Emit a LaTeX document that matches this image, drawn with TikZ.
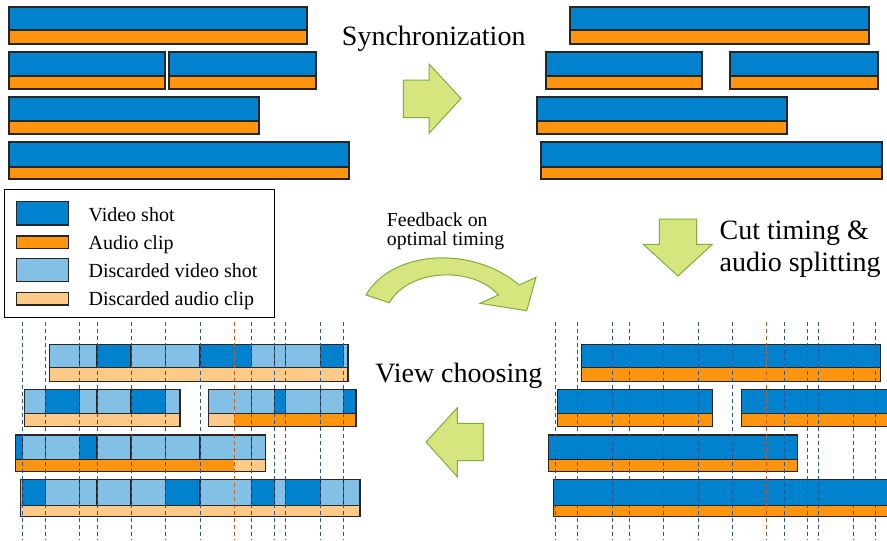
\documentclass[tikz,border=0pt]{standalone}
\usepackage{fontspec}
\setmainfont{Liberation Serif}
\definecolor{vidblue}{HTML}{0082CE}
\definecolor{audorange}{HTML}{FF950E}
\definecolor{disblue}{HTML}{82C0E6}
\definecolor{disorange}{HTML}{FFC987}
\definecolor{gridblue}{HTML}{2B5797}
\definecolor{cutred}{HTML}{D2581D}
\definecolor{arrowfill}{HTML}{D7E57F}
\definecolor{arrowline}{HTML}{79B13C}

% a shot over its audio clip, both kept
\newcommand\avclip[5]{%
  \fill[vidblue] (#1,#3) rectangle (#2,#4);
  \fill[audorange] (#1,#4) rectangle (#2,#5);
  \draw[barline] (#1,#3) rectangle (#2,#5) (#1,#4) -- (#2,#4);}

% a shot cut into pieces: #6 video pieces, #7 audio pieces (x1/x2/colour), #8 cut positions
\newcommand\cutclip[8]{%
  \foreach \a/\b/\c in {#6} {\fill[fill=\c] (\a,#3) rectangle (\b,#4);}
  \foreach \a/\b/\c in {#7} {\fill[fill=\c] (\a,#4) rectangle (\b,#5);}
  \foreach \d in {#8} {\draw[barline] (\d,#3) -- (\d,#4);}
  \draw[barline] (#1,#3) rectangle (#2,#5) (#1,#4) -- (#2,#4);}

\begin{document}
\begin{tikzpicture}[x=0.75pt,y=-0.75pt,
  barline/.style={draw=black!85,line width=0.8pt},
  gridline/.style={draw=gridblue,line width=0.7pt,dash pattern=on 3pt off 2.25pt},
  cutline/.style={draw=cutred,line width=0.7pt,dash pattern=on 3pt off 2.25pt},
  blockarrow/.style={fill=arrowfill,draw=arrowline,line width=0.75pt,line join=miter},
  steplabel/.style={inner sep=0pt,anchor=base west,font=\fontsize{21}{24}\selectfont},
  smalllabel/.style={inner sep=0pt,anchor=base west,font=\fontsize{14.85}{17}\selectfont},
  legendlabel/.style={inner sep=0pt,anchor=base west,font=\fontsize{15}{17}\selectfont}]
\useasboundingbox (0,0) rectangle (887,540);
\clip (0,0) rectangle (887,540);

% ---- unsynchronised recordings
\avclip{9}{307}{7}{30}{44}
\avclip{9}{165}{52}{76}{89}
\avclip{169}{316}{52}{76}{89}
\avclip{9}{259}{97}{121}{134}
\avclip{9}{349}{142}{167}{179}

% ---- synchronised recordings
\avclip{570}{869}{7}{30}{44}
\avclip{546}{702}{52}{76}{89}
\avclip{730}{878}{52}{76}{89}
\avclip{537}{787}{97}{121}{134}
\avclip{541}{882}{142}{167}{179}

% ---- synchronised recordings with cut timing
\avclip{581.9}{880.6}{344.3}{367.7}{381.7}
\avclip{557.3}{712.6}{389.7}{413.7}{426.7}
\avclip{741.3}{888.6}{389.7}{413.7}{426.7}
\avclip{548.3}{797.9}{435}{459.3}{471.7}
\avclip{553.3}{892.6}{479.7}{505.3}{516.7}

% ---- chosen views
\cutclip{49.3}{348}{344.3}{367.7}{381.7}
  {49.3/348/disblue,97/131/vidblue,200/251.7/vidblue,320.7/343.3/vidblue}
  {49.3/348/disorange}
  {79.7,97,131,165.7,200,251.7,274.7,285.7,320.7,343.3}
\cutclip{24.7}{180}{389.7}{413.7}{426.7}
  {24.7/180/disblue,45.3/79.7/vidblue,131/165.7/vidblue}
  {24.7/180/disorange}
  {45.3,79.7,97,131,165.7}
\cutclip{208.7}{356}{389.7}{413.7}{426.7}
  {208.7/356/disblue,274.7/285.7/vidblue,343.3/356/vidblue}
  {208.7/234.3/disorange,234.3/356/audorange}
  {251.7,274.7,285.7,320.7,343.3}
\cutclip{15.7}{265.3}{435}{459.3}{471.7}
  {15.7/265.3/disblue,15.7/22.7/vidblue,79.7/97/vidblue}
  {15.7/234.3/audorange,234.3/265.3/disorange}
  {22.7,45.3,79.7,97,131,165.7,200,251.7}
\cutclip{20.7}{360}{479.7}{505.3}{516.7}
  {20.7/360/disblue,22.7/45.3/vidblue,165.7/200/vidblue,251.7/274.7/vidblue,285.7/320.7/vidblue}
  {20.7/360/disorange}
  {22.7,45.3,79.7,97,131,165.7,200,251.7,274.7,285.7,320.7,343.3}

% ---- cut grid
\foreach \g in {22.7,45.3,79.7,97,131,165.7,200,251.7,274.7,285.7,320.7,343.3} {
  \draw[gridline] (\g,322) -- (\g,540);
  \draw[gridline] ({\g+532.6},322) -- ({\g+532.6},540);
}
\draw[cutline] (234.3,322) -- (234.3,540);
\draw[cutline] (766.9,322) -- (766.9,540);

% ---- step arrows
\draw[blockarrow] (403.3,80) -- (429,80) -- (429,64) -- (461,98.5) -- (429,133.3)
  -- (429,117.7) -- (403.3,117.7) -- cycle;
\draw[blockarrow] (659.3,219) -- (696.7,219) -- (696.7,244.3) -- (712.3,244.3)
  -- (678,276) -- (643.3,244.3) -- (659.3,244.3) -- cycle;
\draw[blockarrow] (483.3,423.3) -- (457.3,423.3) -- (457.3,407.7) -- (426,442)
  -- (457.3,476.7) -- (457.3,460.7) -- (483.3,460.7) -- cycle;
\draw[blockarrow] (366,295) .. controls (392,250) and (472,245) .. (519.3,285)
  -- (536,277.3) -- (526.7,310.7) -- (480,303.3) -- (498.3,295)
  .. controls (475,267) and (410,267) .. (389.3,302.7) -- cycle;

% ---- step labels
\node[steplabel] (sync) at (341.7,45) {Synchronization};
\node[steplabel] (cut1) at (719.3,239.3) {Cut timing \&};
\node[steplabel] (cut2) at (719.3,271) {audio splitting};
\node[steplabel] (view) at (375,382.7) {View choosing};
\node[smalllabel] (fb1) at (386.7,226) {Feedback on};
\node[smalllabel] (fb2) at (386.7,245) {optimal timing};

% ---- legend
\draw[fill=white,draw=black,line width=0.75pt] (4,189.7) rectangle (274.7,317.7);
\draw[barline,fill=vidblue] (16.7,201.7) rectangle (68.7,225);
\draw[barline,fill=audorange] (16.7,236) rectangle (68.7,248.3);
\draw[barline,fill=disblue] (16.7,258.3) rectangle (68.7,281.7);
\draw[barline,fill=disorange] (16.7,292.3) rectangle (68.7,305);
\node[legendlabel] (lg1) at (88.3,221) {Video shot};
\node[legendlabel] (lg2) at (88.3,249.3) {Audio clip};
\node[legendlabel] (lg3) at (88.3,277.7) {Discarded video shot};
\node[legendlabel] (lg4) at (88.3,305.7) {Discarded audio clip};
\end{tikzpicture}
\end{document}
